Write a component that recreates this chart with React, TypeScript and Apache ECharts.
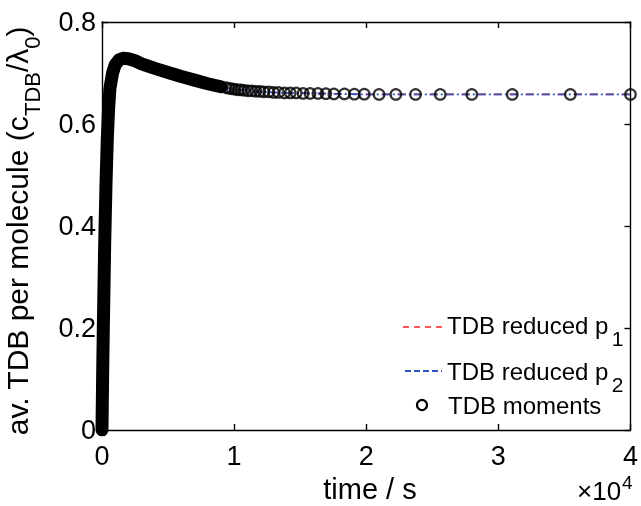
import React, { useEffect, useRef } from 'react';
import * as echarts from 'echarts';

// reduced-model curve (time in s, av. TDB per molecule)
const tCurve = [0, 50, 100, 150, 200, 300, 400, 500, 600, 800, 1000, 1300, 1600, 2000, 2500, 3000, 4000, 5000, 6000, 7000, 8000, 9000, 10000, 12000, 14000, 17000, 20000, 25000, 30000, 40000];
const yCurve = [0, 0.11, 0.2, 0.28, 0.36, 0.48, 0.57, 0.63, 0.67, 0.70, 0.716, 0.726, 0.729, 0.728, 0.724, 0.718, 0.709, 0.701, 0.693, 0.686, 0.679, 0.673, 0.668, 0.663, 0.661, 0.6595, 0.658, 0.658, 0.658, 0.658];

// moments: the dense part (t <= bandEnd) merges into a solid band
const bandEnd = 9400;
const tMoments = [9400, 9630, 9850, 10080, 10300, 10520, 10750, 11050, 11340, 11640, 11940, 12240, 12610, 12990, 13360, 13810, 14250, 14700, 15220, 15750, 16340, 16940, 17550, 18350, 19100, 19850, 20970, 22240, 23730, 25600, 27990, 31050, 35450, 40000];
const yMoments = [0.671, 0.670, 0.669, 0.668, 0.667, 0.667, 0.666, 0.665, 0.665, 0.664, 0.664, 0.663, 0.663, 0.662, 0.662, 0.661, 0.661, 0.661, 0.660, 0.660, 0.660, 0.6595, 0.659, 0.659, 0.6585, 0.6585, 0.658, 0.658, 0.658, 0.658, 0.658, 0.658, 0.658, 0.658];

const xTickLabels = ['0', '1', '2', '3', '4'];
const legendNames = ['TDB reduced p', 'TDB reduced p', 'TDB moments'];
const legendSubs = ['1', '2', ''];

export default function App() {
  const ref = useRef<HTMLDivElement>(null);
  useEffect(() => {
    const chart = echarts.init(ref.current!, null, { renderer: 'svg' });
    const font = 'Liberation Sans, Arial, Helvetica, sans-serif';
    const curve = tCurve.map((t, i) => [t, yCurve[i]]);
    const band = curve.filter((p) => p[0] <= bandEnd);
    const moments = tMoments.map((t, i) => [t, yMoments[i]]);
    const red = '#ff2020';
    const blue = '#2f55bf';

    const axisCommon = {
      axisLine: { show: true, onZero: false, lineStyle: { color: '#000', width: 1.4 } },
      axisTick: { show: true, inside: true, length: 6, lineStyle: { color: '#000', width: 1.4 } },
      splitLine: { show: false },
    };

    const legendRich = {
      n: { fontSize: 24, fontFamily: font, color: '#000', lineHeight: 36, verticalAlign: 'top' },
      s: { fontSize: 21, fontFamily: font, color: '#000', lineHeight: 36, verticalAlign: 'bottom' },
    };

    chart.setOption({
      animation: false,
      grid: { left: 102, right: 3, top: 22, bottom: 76, containLabel: false },
      xAxis: [
        {
          type: 'value', min: 0, max: 40000, interval: 10000,
          ...axisCommon,
          axisLabel: {
            show: true, margin: 12, fontSize: 27, fontFamily: font, color: '#000',
            formatter: (v: number) => xTickLabels[Math.round(v / 10000)] ?? '',
          },
        },
        {
          type: 'value', position: 'top', min: 0, max: 40000, interval: 10000,
          ...axisCommon, axisLabel: { show: false },
        },
      ],
      yAxis: [
        {
          type: 'value', min: 0, max: 0.8, interval: 0.2,
          ...axisCommon,
          axisLabel: {
            show: true, margin: 6, fontSize: 27, fontFamily: font, color: '#000',
            formatter: (v: number) => (v === 0 ? '0' : v.toFixed(1)),
          },
        },
        {
          type: 'value', position: 'right', min: 0, max: 0.8, interval: 0.2,
          ...axisCommon, axisLabel: { show: false },
        },
      ],
      series: [
        {
          type: 'line', data: curve, showSymbol: false, symbol: 'none',
          lineStyle: { color: red, width: 1.6, type: [8, 8] }, z: 2,
        },
        {
          type: 'line', data: curve, showSymbol: false, symbol: 'none',
          lineStyle: { color: blue, width: 1.8, type: [8, 3, 2, 3] }, z: 3,
        },
        {
          type: 'line', data: band, showSymbol: false, symbol: 'none',
          lineStyle: { color: '#000', width: 13, cap: 'round', join: 'round' }, z: 4,
        },
        {
          type: 'scatter', data: moments, symbol: 'circle', symbolSize: 10.5,
          itemStyle: { color: 'rgba(0,0,0,0)', borderColor: '#000', borderWidth: 2.2 }, z: 5,
        },
      ],
      graphic: [
        {
          type: 'text', x: 23, y: 231, rotation: Math.PI / 2,
          style: {
            text: '{n|av. TDB per molecule (c}{s|TDB}{n|/λ}{s|0}{n|)}',
            align: 'center', verticalAlign: 'middle',
            rich: {
              n: { fontSize: 30, fontFamily: font, color: '#000', lineHeight: 41, verticalAlign: 'top' },
              s: { fontSize: 22, fontFamily: font, color: '#000', lineHeight: 41, verticalAlign: 'bottom' },
            },
          },
        },
        {
          type: 'text', x: 370, y: 489,
          style: { text: 'time / s', fontSize: 29, fontFamily: font, fill: '#000', align: 'center', verticalAlign: 'middle' },
        },
        {
          type: 'text', x: 577, y: 491,
          style: { text: '×10', fontSize: 26, fontFamily: font, fill: '#000', align: 'left', verticalAlign: 'middle' },
        },
        {
          type: 'text', x: 622, y: 482,
          style: { text: '4', fontSize: 19, fontFamily: font, fill: '#000', align: 'left', verticalAlign: 'middle' },
        },
        // legend
        {
          type: 'line', shape: { x1: 403, y1: 327, x2: 442, y2: 327 },
          style: { stroke: red, lineWidth: 1.6, lineDash: [6, 5] },
        },
        {
          type: 'text', x: 447, y: 331,
          style: { text: `{n|${legendNames[0]}} {s|${legendSubs[0]}}`, align: 'left', verticalAlign: 'middle', rich: legendRich },
        },
        {
          type: 'line', shape: { x1: 405, y1: 371, x2: 442, y2: 371 },
          style: { stroke: blue, lineWidth: 1.8, lineDash: [6, 3] },
        },
        {
          type: 'text', x: 447, y: 377,
          style: { text: `{n|${legendNames[1]}} {s|${legendSubs[1]}}`, align: 'left', verticalAlign: 'middle', rich: legendRich },
        },
        {
          type: 'circle', shape: { cx: 422, cy: 405, r: 5 },
          style: { fill: 'none', stroke: '#000', lineWidth: 2.2 },
        },
        {
          type: 'text', x: 448, y: 405,
          style: { text: legendNames[2], fontSize: 24, fontFamily: font, fill: '#000', align: 'left', verticalAlign: 'middle' },
        },
      ],
    });
    return () => chart.dispose();
  }, []);
  return <div ref={ref} style={{ position: 'fixed', left: 0, top: 0, width: 641, height: 506 }} />;
}
